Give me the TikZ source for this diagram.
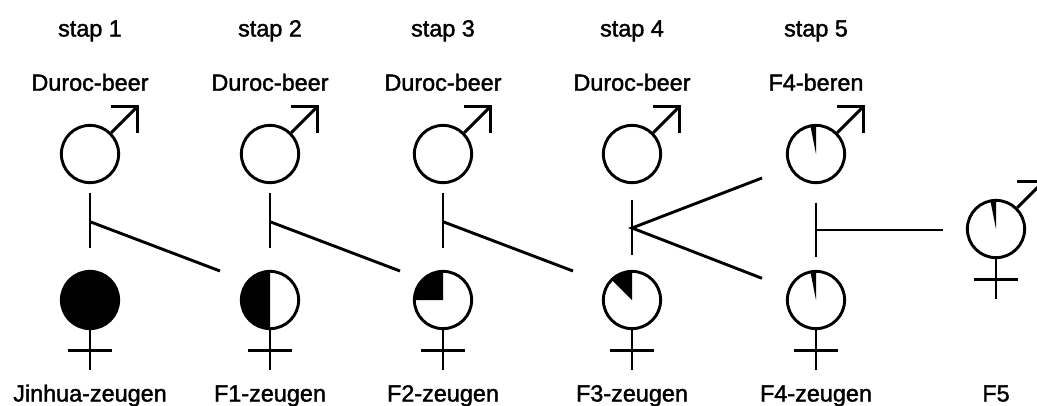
\documentclass[tikz,border=0pt]{standalone}
\usepackage{fontspec}
\setmainfont[FakeBold=1.6]{Liberation Sans}
\begin{document}
\begin{tikzpicture}[x=1pt,y=1pt,
  ln/.style={line width=2.9pt},
  sym/.style={circle, draw, line width=2.9pt, minimum size=57.3pt, inner sep=0pt},
  lbl/.style={font=\fontsize{23.4}{27}\selectfont, anchor=base, inner sep=0pt}]
\useasboundingbox (0,0) rectangle (1037,-405);
\clip (0,0) rectangle (1037,-405);
\def\R{28.65}
% column x positions
\def\xa{90}\def\xb{270}\def\xc{443}\def\xd{632}\def\xe{816}\def\xf{996}
% step labels
\node[lbl] (s1) at (\xa,-36.5) {stap 1};
\node[lbl] (s2) at (\xb,-36.5) {stap 2};
\node[lbl] (s3) at (\xc,-36.5) {stap 3};
\node[lbl] (s4) at (\xd,-36.5) {stap 4};
\node[lbl] (s5) at (\xe,-36.5) {stap 5};
% boar labels
\node[lbl] (l1) at (\xa,-90.7) {Duroc-beer};
\node[lbl] (l2) at (\xb,-90.7) {Duroc-beer};
\node[lbl] (l3) at (\xc,-90.7) {Duroc-beer};
\node[lbl] (l4) at (\xd,-90.7) {Duroc-beer};
\node[lbl] (l5) at (\xe,-90.7) {F4-beren};
% sow labels
\node[lbl] (z1) at (\xa,-401.5) {Jinhua-zeugen};
\node[lbl] (z2) at (\xb,-401.5) {F1-zeugen};
\node[lbl] (z3) at (\xc,-401.5) {F2-zeugen};
\node[lbl] (z4) at (\xd,-401.5) {F3-zeugen};
\node[lbl] (z5) at (\xe,-401.5) {F4-zeugen};
\node[lbl] (z6) at (\xf,-401.5) {F5};
% male circles
\node[sym] (m1) at (\xa,-154) {};
\node[sym] (m2) at (\xb,-154) {};
\node[sym] (m3) at (\xc,-154) {};
\node[sym] (m4) at (\xd,-154) {};
\node[sym] (m5) at (\xe,-154) {};
% female circles
\node[sym, fill=black] (f1) at (\xa,-300) {};
\node[sym] (f2) at (\xb,-300) {};
\node[sym] (f3) at (\xc,-300) {};
\node[sym] (f4) at (\xd,-300) {};
\node[sym] (f5) at (\xe,-300) {};
% F5 (both sexes)
\node[sym] (g) at (\xf,-229) {};
% pie fills
\fill (f2.center) -- +(90:\R) arc[start angle=90,end angle=270,radius=\R] -- cycle;
\fill (f3.center) -- +(90:\R) arc[start angle=90,end angle=180,radius=\R] -- cycle;
\fill (f4.center) -- +(90:\R) arc[start angle=90,end angle=135,radius=\R] -- cycle;
\foreach \n in {f5,m5,g}{
  \fill (\n.center) -- +(90:\R) arc[start angle=90,end angle=101.25,radius=\R] -- cycle;
}
% male arrows
\foreach \n in {m1,m2,m3,m4,m5,g}{
  \draw[ln] (\n.45) -- ++(26,26) coordinate (\n-tip);
  \draw[ln] ([xshift=-26.5pt]\n-tip) -- (\n-tip) -- ([yshift=-26pt]\n-tip);
}
% female crosses
\foreach \n in {f1,f2,f3,f4,f5,g}{
  \draw[ln] (\n.south) -- ++(0,-40);
  \draw[ln] ([xshift=-22pt,yshift=-20pt]\n.south) -- ([xshift=22pt,yshift=-20pt]\n.south);
}
% mating connectors
\coordinate (ta) at (\xa,-192.7); \coordinate (ba) at (\xa,-248.3);
\coordinate (ja) at (\xa,-221.7); \coordinate (ea) at (220,-271);
\coordinate (tb) at (\xb,-192.7); \coordinate (bb) at (\xb,-248.3);
\coordinate (jb) at (\xb,-221.7); \coordinate (eb) at (400,-271);
\coordinate (tc) at (\xc,-192.7); \coordinate (bc) at (\xc,-248.3);
\coordinate (jc) at (\xc,-221.7); \coordinate (ec) at (573,-271);
\coordinate (td) at (\xd,-200); \coordinate (bd) at (\xd,-255);
\coordinate (jd) at (\xd,-228); \coordinate (ud) at (762,-178); \coordinate (dd) at (762,-278.3);
\coordinate (te) at (\xe,-202.7); \coordinate (be) at (\xe,-257.3);
\coordinate (je) at (\xe,-230); \coordinate (ee) at (943.3,-230);
\draw[ln] (ta) -- (ba); \draw[ln] (ja) -- (ea);
\draw[ln] (tb) -- (bb); \draw[ln] (jb) -- (eb);
\draw[ln] (tc) -- (bc); \draw[ln] (jc) -- (ec);
\draw[ln] (td) -- (bd); \draw[ln] (ud) -- (jd) -- (dd);
\draw[ln] (te) -- (be); \draw[ln] (je) -- (ee);
\end{tikzpicture}
\end{document}
